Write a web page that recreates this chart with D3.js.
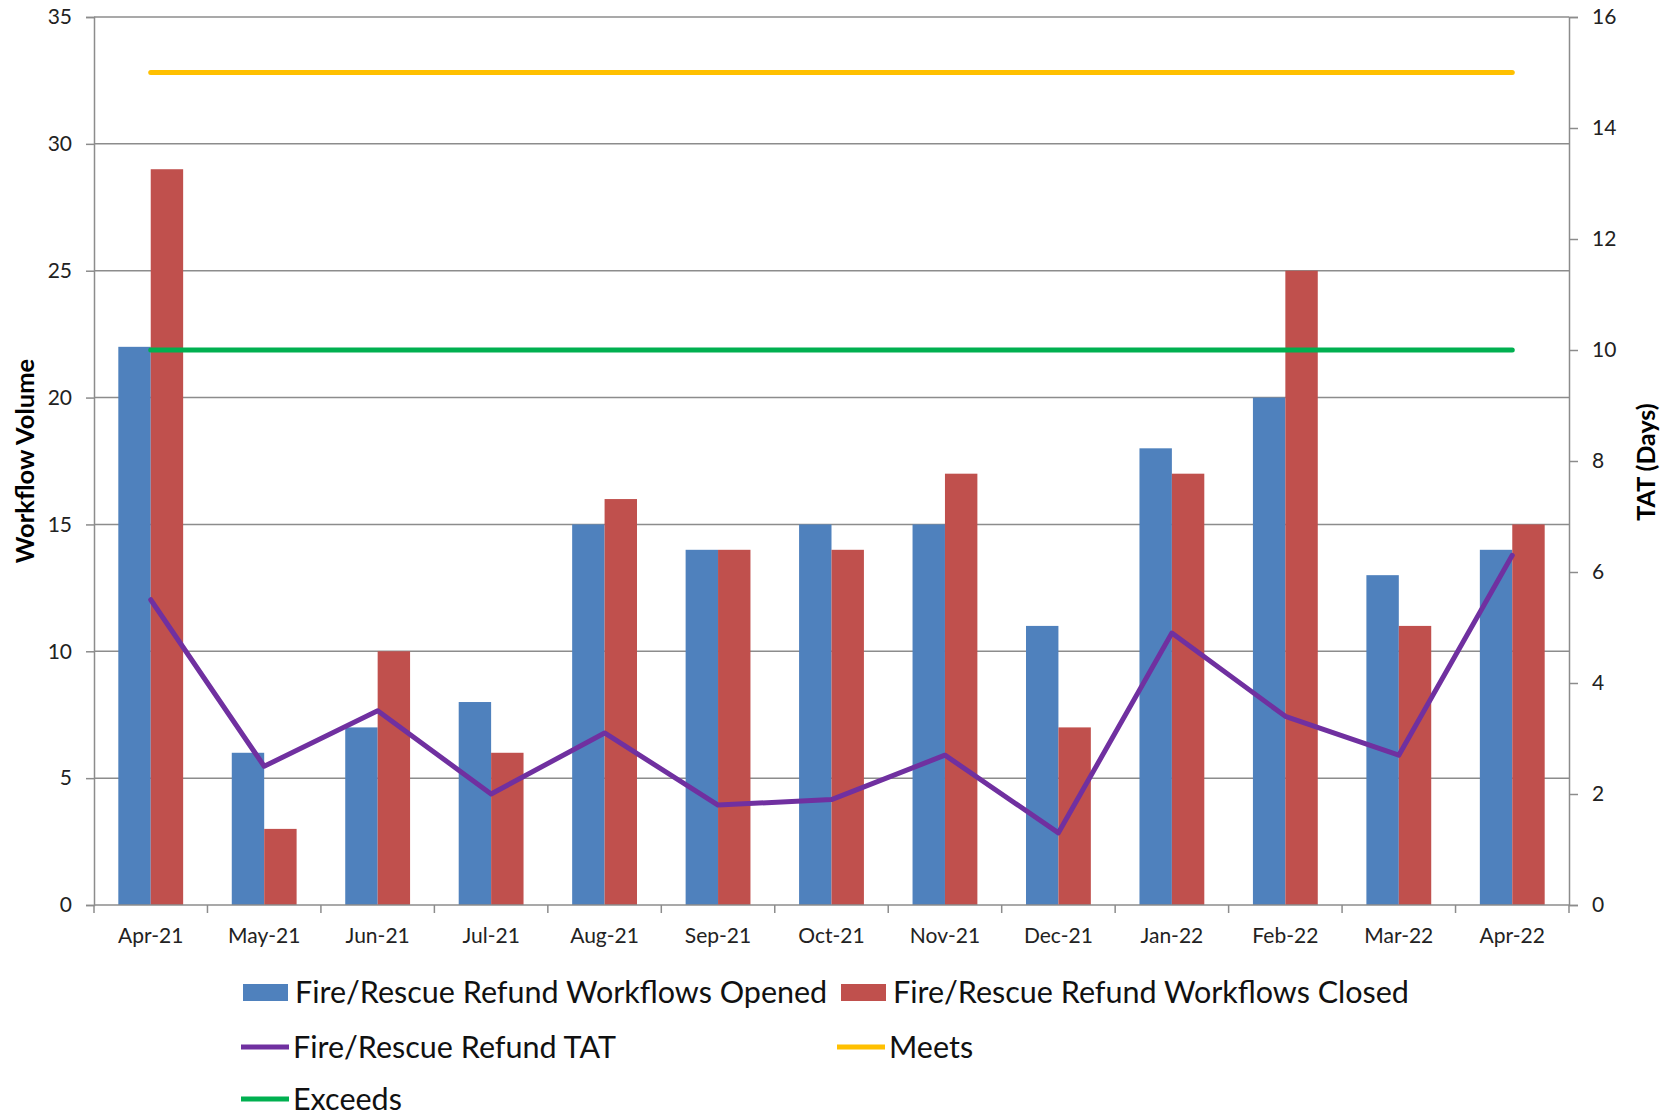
<!DOCTYPE html>
<html><head><meta charset="utf-8">
<script src="https://cdn.jsdelivr.net/npm/d3@7"></script>
<style>
html,body{margin:0;padding:0;background:#fff;}
svg{display:block;font-family:Lato,"Open Sans",sans-serif;}
</style></head>
<body>
<svg id="chart" width="1675" height="1118"></svg>
<script>
const months = ["Apr-21","May-21","Jun-21","Jul-21","Aug-21","Sep-21","Oct-21","Nov-21","Dec-21","Jan-22","Feb-22","Mar-22","Apr-22"];
const opened = [22,6,7,8,15,14,15,15,11,18,20,13,14];
const closed = [29,3,10,6,16,14,14,17,7,17,25,11,15];
const tat = [5.5,2.5,3.5,2.0,3.1,1.8,1.9,2.7,1.3,4.9,3.4,2.7,6.3];
const meets = [15,15,15,15,15,15,15,15,15,15,15,15,15];
const exceeds = [10,10,10,10,10,10,10,10,10,10,10,10,10];
const leftTicks = [0,5,10,15,20,25,30,35];
const rightTicks = [0,2,4,6,8,10,12,14,16];
const seriesNames = ["Fire/Rescue Refund Workflows Opened","Fire/Rescue Refund Workflows Closed","Fire/Rescue Refund TAT","Meets","Exceeds"];

const C = {blue:"#4F81BD", red:"#C0504D", purple:"#7030A0", yellow:"#FFC000", green:"#00B050", grid:"#8C8C8C", text:"#222"};
const L = 94, R = 1569, T = 17, B = 905;
const svg = d3.select("#chart");

const x = d3.scaleBand().domain(months).range([L, R]).paddingInner(0).paddingOuter(0);
const yL = d3.scaleLinear().domain([0,35]).range([B, T]);
const yR = d3.scaleLinear().domain([0,16]).range([B, T]);
const bw = x.bandwidth() / 3.5;
const cx = m => x(m) + x.bandwidth()/2;

// gridlines
svg.append("g").selectAll("line").data(leftTicks.filter(d=>d>0)).join("line")
  .attr("x1", L).attr("x2", R).attr("y1", d=>yL(d)).attr("y2", d=>yL(d))
  .attr("stroke", C.grid).attr("stroke-width", 1.5);

// bars
const bars = svg.append("g");
bars.selectAll(".o").data(months).join("rect").attr("class","o")
  .attr("x", (m)=>cx(m)-bw).attr("width", bw)
  .attr("y", (m,i)=>yL(opened[i])).attr("height", (m,i)=>B - yL(opened[i]))
  .attr("fill", C.blue);
bars.selectAll(".c").data(months).join("rect").attr("class","c")
  .attr("x", (m)=>cx(m)).attr("width", bw)
  .attr("y", (m,i)=>yL(closed[i])).attr("height", (m,i)=>B - yL(closed[i]))
  .attr("fill", C.red);

// lines
const lineGen = arr => d3.line().x((m)=>cx(m)).y((m,i)=>yR(arr[i]))(months);
svg.append("path").attr("d", lineGen(meets)).attr("fill","none").attr("stroke", C.yellow).attr("stroke-width",5).attr("stroke-linecap","round");
svg.append("path").attr("d", lineGen(exceeds)).attr("fill","none").attr("stroke", C.green).attr("stroke-width",5).attr("stroke-linecap","round");
svg.append("path").attr("d", lineGen(tat)).attr("fill","none").attr("stroke", C.purple).attr("stroke-width",5).attr("stroke-linejoin","round").attr("stroke-linecap","round");

// axes
const axL = svg.append("g").attr("transform",`translate(${L},0)`)
  .call(d3.axisLeft(yL).tickValues(leftTicks).tickSize(8).tickPadding(14));
const axR = svg.append("g").attr("transform",`translate(${R},0)`)
  .call(d3.axisRight(yR).tickValues(rightTicks).tickSize(9).tickPadding(14));
const axB = svg.append("g").attr("transform",`translate(0,${B})`)
  .call(d3.axisBottom(x).tickSize(0).tickPadding(23));
// category boundary ticks
svg.append("g").selectAll("line").data(months.concat(["__end"])).join("line")
  .attr("x1",(m,i)=> i<months.length ? x(m) : R).attr("x2",(m,i)=> i<months.length ? x(m) : R)
  .attr("y1",B).attr("y2",B+8).attr("stroke",C.grid).attr("stroke-width",1.5);

[axL,axR,axB].forEach(a=>{
  a.select(".domain").attr("stroke",C.grid).attr("stroke-width",1.5);
  a.selectAll(".tick line").attr("stroke",C.grid).attr("stroke-width",1.5);
  a.selectAll("text").attr("fill",C.text).attr("font-size",21).attr("font-family","Lato");
});
axB.select(".domain").attr("d",`M${L},0H${R}`);

// axis titles
svg.append("text").attr("transform","translate(24,461) rotate(-90)")
  .attr("text-anchor","middle").attr("dominant-baseline","central")
  .attr("font-weight","bold").attr("font-size",25.5).attr("fill","#000").text("Workflow Volume");
svg.append("text").attr("transform","translate(1645,462) rotate(-90)")
  .attr("text-anchor","middle").attr("dominant-baseline","central")
  .attr("font-weight","bold").attr("font-size",25).attr("fill","#000").text("TAT (Days)");

// legend
const legendItems = [
  {name:seriesNames[0], type:"rect", color:C.blue, x:243, y:992},
  {name:seriesNames[1], type:"rect", color:C.red, x:841, y:992},
  {name:seriesNames[2], type:"line", color:C.purple, x:241, y:1047},
  {name:seriesNames[3], type:"line", color:C.yellow, x:837, y:1047},
  {name:seriesNames[4], type:"line", color:C.green, x:241, y:1099}
];
const lg = svg.append("g").selectAll("g").data(legendItems).join("g")
  .attr("transform", d=>`translate(${d.x},${d.y})`);
lg.filter(d=>d.type==="rect").append("rect").attr("x",0).attr("y",-8).attr("width",45).attr("height",17).attr("fill",d=>d.color);
lg.filter(d=>d.type==="line").append("line").attr("x1",0).attr("x2",48).attr("y1",0).attr("y2",0).attr("stroke",d=>d.color).attr("stroke-width",5);
lg.append("text").attr("x",52).attr("y",-1).attr("dominant-baseline","central")
  .attr("font-size",30.5).attr("fill","#111").text(d=>d.name);
</script>
</body></html>
